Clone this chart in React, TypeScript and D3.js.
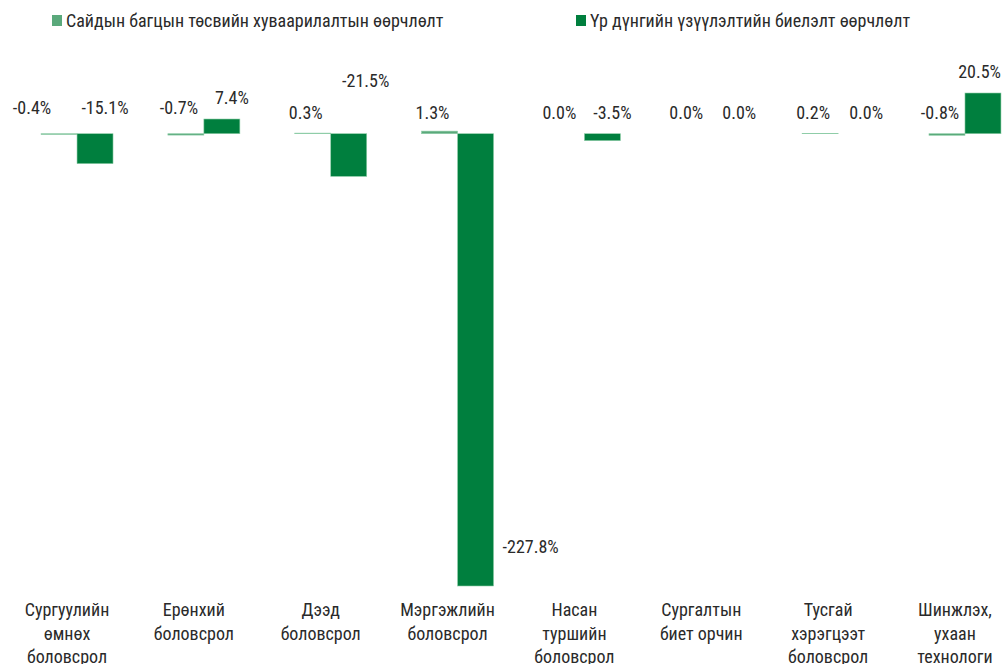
import React, { useEffect, useRef } from 'react';
import * as d3 from 'd3';

const categories = [
  ['Сургуулийн', 'өмнөх', 'боловсрол'],
  ['Ерөнхий', 'боловсрол'],
  ['Дээд', 'боловсрол'],
  ['Мэргэжлийн', 'боловсрол'],
  ['Насан', 'туршийн', 'боловсрол'],
  ['Сургалтын', 'биет орчин'],
  ['Тусгай', 'хэрэгцээт', 'боловсрол'],
  ['Шинжлэх,', 'ухаан', 'технологи'],
];
const seriesNames = [
  'Сайдын багцын төсвийн хуваарилалтын өөрчлөлт',
  'Үр дүнгийн үзүүлэлтийн биелэлт өөрчлөлт',
];
const budgetChange = [-0.4, -0.7, 0.3, 1.3, 0.0, 0.0, 0.2, -0.8];
const resultChange = [-15.1, 7.4, -21.5, -227.8, -3.5, 0.0, 0.0, 20.5];

const colors = ['#5aa97b', '#007f3e'];
const FONT = "'Roboto Condensed', 'Liberation Sans Narrow', 'Arial Narrow', Roboto, sans-serif";
const FS = 18;
const TEXT = '#2a2a2a';

const App = () => {
  const ref = useRef<SVGSVGElement>(null);

  useEffect(() => {
    document.body.style.margin = '0';
    const width = 1002;
    const svg = d3.select(ref.current);
    svg.selectAll('*').remove();

    const keys = categories.map((c) => c.join(' '));
    const x = d3.scaleBand().domain(keys).range([13.6, 1028.4]).padding(0);
    const xs = d3.scaleBand<number>().domain([0, 1]).range([0, x.bandwidth()]).paddingOuter(0.762).paddingInner(0);
    const y = d3.scaleLinear().domain([-227.8, 20.5]).range([586, 93]);

    const rows = keys.map((k, i) => ({ key: k, vals: [budgetChange[i], resultChange[i]] }));

    // legend
    const legend = svg.append('g').attr('font-family', FONT).attr('font-size', FS);
    const legendX = [52, 576];
    seriesNames.forEach((name, i) => {
      legend.append('rect').attr('x', legendX[i]).attr('y', 15).attr('width', 10).attr('height', 11).attr('fill', colors[i]);
      legend.append('text').attr('x', legendX[i] + 14).attr('y', 21).attr('dy', '0.35em').attr('fill', TEXT).text(name);
    });

    const g = svg.append('g');
    const groups = g.selectAll('g.grp').data(rows).enter().append('g')
      .attr('class', 'grp')
      .attr('transform', (d) => `translate(${x(d.key)},0)`);

    groups.selectAll('rect')
      .data((d) => d.vals.map((v, s) => ({ v, s })).filter((d) => d.v !== 0))
      .enter().append('rect')
      .attr('x', (d) => xs(d.s)!)
      .attr('width', xs.bandwidth())
      .attr('y', (d) => y(Math.max(0, d.v)))
      .attr('height', (d) => Math.abs(y(d.v) - y(0)))
      .attr('fill', (d) => colors[d.s])
      .attr('stroke', '#8fcda8')
      .attr('stroke-width', 0.6);

    // data labels
    const labels = groups.selectAll('text')
      .data((d, gi) => d.vals.map((v, s) => ({ v, s, gi })))
      .enter().append('text')
      .attr('font-family', FONT)
      .attr('font-size', FS)
      .attr('fill', TEXT)
      .attr('dy', '0.35em')
      .attr('text-anchor', (d) => (d.v < -100 ? 'start' : 'middle'))
      .attr('x', (d) => {
        const cx = xs(d.s)! + xs.bandwidth() / 2;
        if (d.v < -100) return xs(d.s)! + xs.bandwidth() + 9;
        if (d.v < -20) return cx + 17;
        if (d.s === 0 && d.gi === 0) return cx - 27;
        return cx + (d.s === 0 ? -7 : 10);
      })
      .attr('y', (d) => {
        if (d.v < -100) return y(d.v) - 39;
        if (d.v < -20) return y(0) - 53;
        if (d.v > 1.5) return y(d.v) - 21;
        return y(0) - (d.gi < 2 ? 26 : 21);
      })
      .text((d) => `${d.v.toFixed(1)}%`);

    // keep labels inside the right edge
    labels.each(function (d) {
      const el = this as SVGTextElement;
      const gx = x(rows[d.gi].key)!;
      const bb = el.getBBox();
      if (gx + bb.x + bb.width > width - 1) {
        d3.select(el).attr('text-anchor', 'end').attr('x', width - 1 - gx);
      }
    });

    // category axis labels (sit a little left of the group centre, as in the source)
    const axis = svg.append('g').attr('font-family', FONT).attr('font-size', FS).attr('fill', TEXT);
    rows.forEach((r, i) => {
      const cx = x(r.key)! + x.bandwidth() / 2 - 10;
      const t = axis.append('text').attr('x', cx).attr('y', 610).attr('text-anchor', 'middle');
      categories[i].forEach((line, j) => {
        t.append('tspan')
          .attr('x', cx)
          .attr('dy', j === 0 ? '0.35em' : 23.5)
          .text(line);
      });
    });
  }, []);

  return <svg ref={ref} width={1002} height={664} style={{ display: 'block', background: '#fff' }} />;
};

export default App;
